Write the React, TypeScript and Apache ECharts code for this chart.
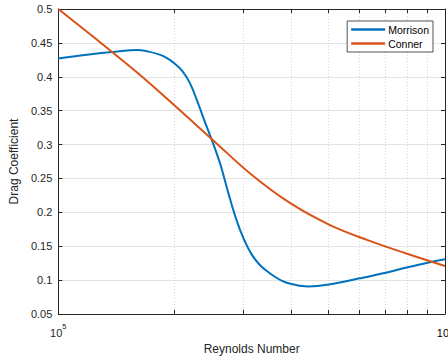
import React, { useEffect, useRef } from "react";
import * as echarts from "echarts";

const morrisonRe = [1.0e5, 1.2e5, 1.4e5, 1.6e5, 1.7e5, 1.82e5, 1.905e5, 1.995e5, 2.089e5, 2.188e5, 2.291e5, 2.399e5, 2.512e5, 2.63e5, 2.754e5, 2.884e5, 3.02e5, 3.162e5, 3.311e5, 3.467e5, 3.631e5, 3.802e5, 3.981e5, 4.169e5, 4.436e5, 5.012e5, 6.01e5, 7.03e5, 8.01e5, 9.02e5, 1.0e6];
const morrison = [0.427, 0.433, 0.437, 0.4395, 0.4375, 0.433, 0.428, 0.42, 0.409, 0.391, 0.363, 0.332, 0.302, 0.269, 0.228, 0.19, 0.16, 0.138, 0.123, 0.113, 0.105, 0.0985, 0.0945, 0.0922, 0.0906, 0.0935, 0.1026, 0.111, 0.119, 0.1257, 0.1307];
const connerRe = [1.0e5, 1.259e5, 1.585e5, 1.995e5, 2.512e5, 3.162e5, 3.981e5, 5.012e5, 6.31e5, 7.943e5, 1.0e6];
const conner = [0.5, 0.4545, 0.408, 0.358, 0.3065, 0.2555, 0.2135, 0.182, 0.159, 0.1392, 0.1208];
const minorTicks = [2e5, 3e5, 4e5, 5e5, 6e5, 7e5, 8e5, 9e5];
const seriesNames = ["Morrison", "Conner"];

const AX = "#262626";
const FONT = "Liberation Sans, Arial, Helvetica, sans-serif";

const richStyles = {
  b: { fontFamily: FONT, fontSize: 11, color: AX, verticalAlign: "bottom", lineHeight: 16 },
  s: { fontFamily: FONT, fontSize: 7.5, color: AX, verticalAlign: "top", lineHeight: 16 },
};
const powLabel = (v: number) => `{b|10}{s|${Math.round(Math.log10(v))}}`;

export default function App() {
  const ref = useRef<HTMLDivElement>(null);
  useEffect(() => {
    if (!ref.current) return;
    const chart = echarts.init(ref.current, undefined, { renderer: "svg" });
    const tickLen = 0.006;
    const tickLines: any[] = [];
    minorTicks.forEach((m) => {
      tickLines.push([{ coord: [m, 0.05] }, { coord: [m, 0.05 + tickLen] }]);
      tickLines.push([{ coord: [m, 0.5] }, { coord: [m, 0.5 - tickLen] }]);
    });
    chart.setOption({
      animation: false,
      backgroundColor: "#ffffff",
      textStyle: { fontFamily: FONT },
      grid: { left: 58, top: 9, right: 3, bottom: 46, containLabel: false },
      legend: {
        data: seriesNames,
        orient: "vertical",
        right: 15,
        top: 21,
        icon: "rect",
        itemWidth: 34,
        itemHeight: 2.5,
        itemGap: 3,
        padding: [3, 4, 3, 4],
        borderColor: AX,
        borderWidth: 0.8,
        backgroundColor: "#ffffff",
        textStyle: { fontFamily: FONT, fontSize: 10.5, color: "#000", padding: [0, 0, 0, -2] },
      },
      xAxis: [
        {
          type: "log",
          logBase: 10,
          min: 1e5,
          max: 1e6,
          name: "Reynolds Number",
          nameLocation: "middle",
          nameGap: 26,
          nameTextStyle: { fontFamily: FONT, fontSize: 12, color: AX },
          axisLine: { show: true, lineStyle: { color: AX, width: 1 } },
          axisTick: { show: false },
          splitLine: { show: false },
          axisLabel: {
            margin: 8,
            showMaxLabel: false,
            formatter: (v: number) => (v >= 9.99e5 ? "" : powLabel(v)),
            rich: richStyles,
          },
        },
        {
          type: "log",
          logBase: 10,
          min: 1e5,
          max: 1e6,
          position: "top",
          axisLine: { show: true, lineStyle: { color: AX, width: 1 } },
          axisTick: { show: false },
          axisLabel: { show: false },
          splitLine: { show: false },
        },
      ],
      yAxis: [
        {
          type: "value",
          min: 0.05,
          max: 0.5,
          interval: 0.05,
          name: "Drag Coefficient",
          nameLocation: "middle",
          nameGap: 25,
          nameTextStyle: { fontFamily: FONT, fontSize: 12, color: AX },
          axisLine: { show: true, lineStyle: { color: AX, width: 1 } },
          axisTick: { show: true, inside: true, length: 4, lineStyle: { color: AX } },
          axisLabel: { fontFamily: FONT, fontSize: 11, color: AX, margin: 6 },
          splitLine: { show: true, lineStyle: { color: "#e3e3e3", width: 1 } },
        },
        {
          type: "value",
          min: 0.05,
          max: 0.5,
          interval: 0.05,
          position: "right",
          axisLine: { show: true, lineStyle: { color: AX, width: 1 } },
          axisTick: { show: true, inside: true, length: 4, lineStyle: { color: AX } },
          axisLabel: { show: false },
          splitLine: { show: false },
        },
      ],
      series: [
        {
          name: seriesNames[0],
          type: "line",
          data: morrisonRe.map((r, i) => [r, morrison[i]]),
          smooth: 0.4,
          showSymbol: false,
          symbol: "none",
          lineStyle: { color: "#0072BD", width: 2 },
          itemStyle: { color: "#0072BD" },
          z: 3,
          markLine: {
            silent: true,
            symbol: "none",
            label: { show: false },
            lineStyle: { color: "#d4d4d4", type: [1, 2], width: 1 },
            data: minorTicks.map((m) => ({ xAxis: m })),
            z: 1,
          },
        },
        {
          name: seriesNames[1],
          type: "line",
          data: connerRe.map((r, i) => [r, conner[i]]),
          smooth: 0.4,
          showSymbol: false,
          symbol: "none",
          lineStyle: { color: "#D95319", width: 2 },
          itemStyle: { color: "#D95319" },
          z: 4,
          markLine: {
            silent: true,
            symbol: "none",
            label: { show: false },
            lineStyle: { color: AX, type: "solid", width: 1 },
            data: tickLines,
          },
        },
      ],
    });
    const p = chart.convertToPixel({ xAxisIndex: 0, yAxisIndex: 0 }, [1e6, 0.05]) as number[];
    if (p && isFinite(p[0])) {
      chart.setOption({
        graphic: [
          {
            type: "text",
            x: p[0],
            y: p[1] + 8,
            silent: true,
            style: {
              text: powLabel(1e6),
              rich: richStyles,
              align: "center",
              verticalAlign: "top",
            },
          },
        ],
      });
    }
    return () => chart.dispose();
  }, []);
  return (
    <div
      ref={ref}
      style={{ position: "absolute", left: 0, top: 0, width: 448, height: 360 }}
    />
  );
}
